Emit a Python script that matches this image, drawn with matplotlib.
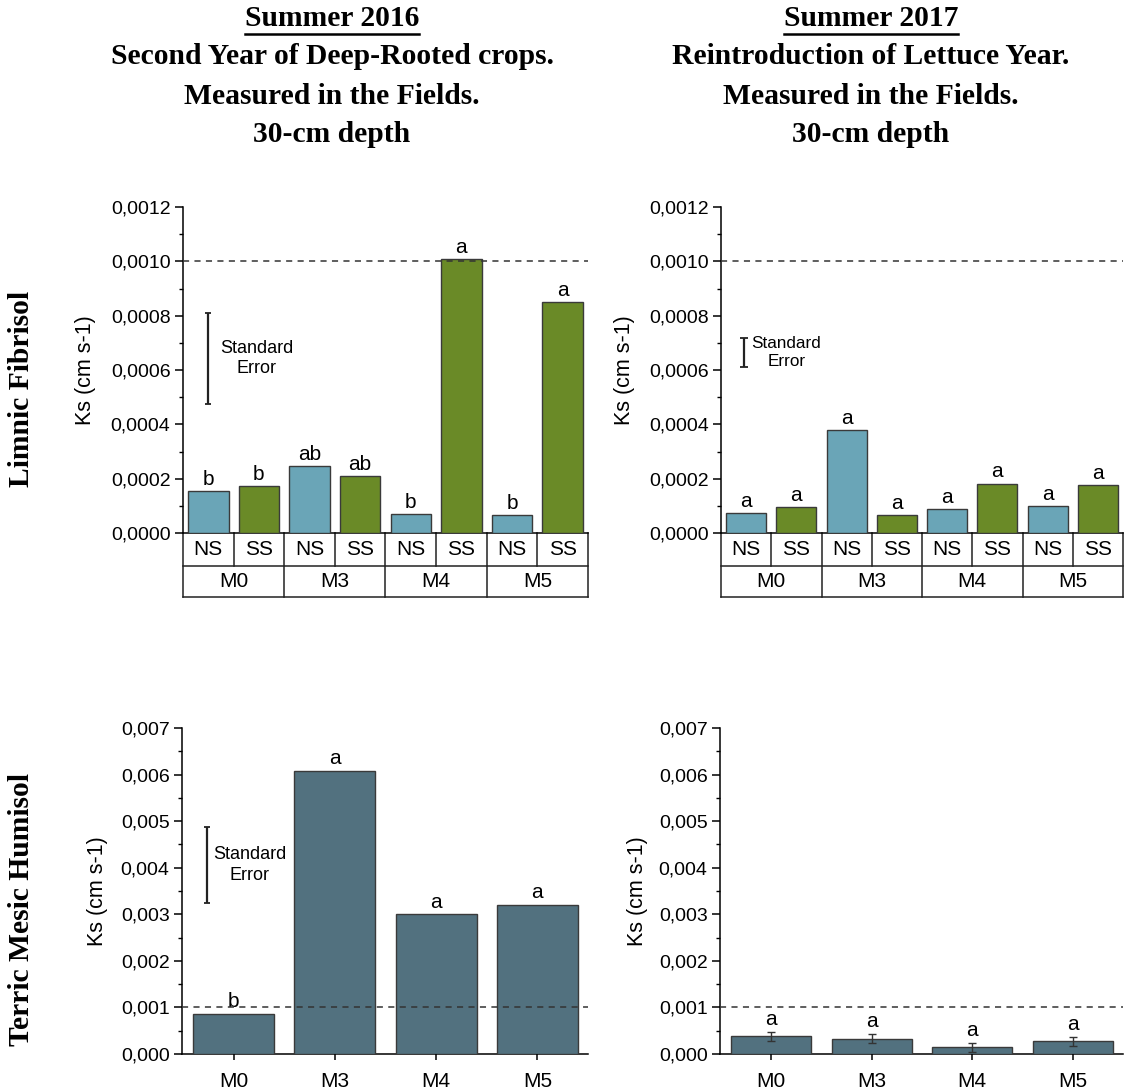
import matplotlib
matplotlib.use("Agg")
import matplotlib.pyplot as plt
import matplotlib.transforms as mtransforms
from matplotlib.lines import Line2D
from matplotlib.ticker import AutoMinorLocator, FuncFormatter, MultipleLocator

plt.rcParams["font.family"] = ["Liberation Sans", "DejaVu Sans"]

# Limnic Fibrisol: Ks by amendment (M0..M5) and sub-treatment (NS / SS)
amendments = ["M0", "M3", "M4", "M5"]
subplots_ns_ss = ["NS", "SS"]

lf_2016_ns = [0.000156, 0.000248, 0.000070, 0.000065]
lf_2016_ss = [0.000174, 0.000208, 0.001010, 0.000850]
lf_2016_ns_letters = ["b", "ab", "b", "b"]
lf_2016_ss_letters = ["b", "ab", "a", "a"]

lf_2017_ns = [0.000073, 0.000378, 0.000087, 0.000100]
lf_2017_ss = [0.000097, 0.000067, 0.000182, 0.000176]
lf_2017_ns_letters = ["a", "a", "a", "a"]
lf_2017_ss_letters = ["a", "a", "a", "a"]

# Terric Mesic Humisol: Ks by amendment
tmh_2016 = [0.00086, 0.00608, 0.00300, 0.00320]
tmh_2016_letters = ["b", "a", "a", "a"]

tmh_2017 = [0.00038, 0.00033, 0.00014, 0.00027]
tmh_2017_err = [0.00010, 0.00010, 0.00010, 0.00010]
tmh_2017_letters = ["a", "a", "a", "a"]

# standard error legend bars (low, high)
se_lf_2016 = (0.000475, 0.00081)
se_lf_2017 = (0.000612, 0.000718)
se_tmh_2016 = (0.00325, 0.00488)

threshold = 0.001

NS_COLOR = "#6aa5b7"
SS_COLOR = "#6a8a27"
TMH_COLOR = "#52717f"
EDGE = "#3a3a3a"

fig = plt.figure(figsize=(11.25, 10.92), dpi=100)
W, H = 1125, 1092


def add_axes_px(left, top, right, bottom):
    return fig.add_axes([left / W, 1 - bottom / H, (right - left) / W, (bottom - top) / H])


def style_axis(ax, ymax, step, decimals):
    ax.set_ylim(0, ymax)
    ax.yaxis.set_major_locator(MultipleLocator(step))
    ax.yaxis.set_minor_locator(AutoMinorLocator(2))
    ax.yaxis.set_major_formatter(FuncFormatter(lambda v, _: f"{v:.{decimals}f}".replace(".", ",")))
    for side in ("top", "right"):
        ax.spines[side].set_visible(False)
    ax.spines["left"].set_linewidth(1.1)
    ax.spines["bottom"].set_linewidth(1.1)
    ax.tick_params(axis="y", which="major", length=6, width=1.1, labelsize=14, pad=3)
    ax.tick_params(axis="y", which="minor", length=3, width=1.0)
    ax.set_ylabel("Ks (cm s-1)", fontsize=15.5)
    ax.axhline(threshold, color="#333333", linestyle=(0, (4, 3.5)), linewidth=1.1, zorder=5)


def se_legend(ax, x, lo_hi, text, text_x, fontsize, capsize):
    lo, hi = lo_hi
    ax.errorbar([x], [(lo + hi) / 2], yerr=[(hi - lo) / 2], fmt="none",
                ecolor="#222222", elinewidth=1.6, capsize=capsize, capthick=1.3)
    ax.text(text_x, (lo + hi) / 2, text, ha="center", va="center", fontsize=fontsize,
            linespacing=1.3)


def grouped_panel(ax, ns, ss, ns_letters, ss_letters):
    xs_ns = [2 * i for i in range(len(amendments))]
    xs_ss = [2 * i + 1 for i in range(len(amendments))]
    ax.bar(xs_ns, ns, width=0.8, color=NS_COLOR, edgecolor=EDGE, linewidth=1.0, zorder=3)
    ax.bar(xs_ss, ss, width=0.8, color=SS_COLOR, edgecolor=EDGE, linewidth=1.0, zorder=3)
    for xs, vals, letters in ((xs_ns, ns, ns_letters), (xs_ss, ss, ss_letters)):
        for x, v, lab in zip(xs, vals, letters):
            ax.annotate(lab, (x, v), xytext=(0, 1.5), textcoords="offset points",
                        ha="center", va="bottom", fontsize=15)
    ax.set_xlim(-0.5, 2 * len(amendments) - 0.5)
    ax.set_xticks([])

    # two-row category table under the axis
    trans = mtransforms.blended_transform_factory(ax.transData, ax.transAxes)
    r1, r2 = -0.101, -0.196
    xmin, xmax = -0.5, 2 * len(amendments) - 0.5
    line_kw = dict(color="#222222", linewidth=1.1, transform=trans, clip_on=False)
    for yy in (r1, r2):
        ax.add_line(Line2D([xmin, xmax], [yy, yy], **line_kw))
    for k in range(2 * len(amendments) + 1):
        bot_y = r2 if k % 2 == 0 else r1
        ax.add_line(Line2D([k - 0.5, k - 0.5], [0, bot_y], **line_kw))
    for i, m in enumerate(amendments):
        for j, s in enumerate(subplots_ns_ss):
            ax.text(2 * i + j, r1 / 2, s, transform=trans, ha="center", va="center", fontsize=15)
        ax.text(2 * i + 0.5, (r1 + r2) / 2, m, transform=trans, ha="center", va="center", fontsize=15)


def single_panel(ax, vals, letters, err=None):
    xs = list(range(len(amendments)))
    ax.bar(xs, vals, width=0.8, color=TMH_COLOR, edgecolor=EDGE, linewidth=1.0, zorder=3)
    tops = list(vals)
    if err is not None:
        ax.errorbar(xs, vals, yerr=err, fmt="none", ecolor="#333333", elinewidth=1.0,
                    capsize=3, capthick=1.0, zorder=4)
        tops = [v + e for v, e in zip(vals, err)]
    for x, t, lab in zip(xs, tops, letters):
        ax.annotate(lab, (x, t), xytext=(0, 2), textcoords="offset points",
                    ha="center", va="bottom", fontsize=15)
    ax.set_xlim(-0.51, len(amendments) - 0.5)
    ax.set_xticks(xs, amendments)
    ax.tick_params(axis="x", length=4, width=1.1, labelsize=15, pad=9)


# Limnic Fibrisol, 2016
ax1 = add_axes_px(183, 207, 588, 533)
style_axis(ax1, 0.0012, 0.0002, 4)
grouped_panel(ax1, lf_2016_ns, lf_2016_ss, lf_2016_ns_letters, lf_2016_ss_letters)
se_legend(ax1, 0.0, se_lf_2016, "Standard\nError", 0.95, 13, 2)
ax1.yaxis.set_label_coords(-0.215, 0.5)

# Limnic Fibrisol, 2017
ax2 = add_axes_px(721, 207, 1123, 533)
style_axis(ax2, 0.0012, 0.0002, 4)
grouped_panel(ax2, lf_2017_ns, lf_2017_ss, lf_2017_ns_letters, lf_2017_ss_letters)
se_legend(ax2, -0.05, se_lf_2017, "Standard\nError", 0.8, 12.3, 3)
ax2.yaxis.set_label_coords(-0.214, 0.5)

# Terric Mesic Humisol, 2016
ax3 = add_axes_px(182, 728, 588, 1054)
style_axis(ax3, 0.007, 0.001, 3)
single_panel(ax3, tmh_2016, tmh_2016_letters)
se_legend(ax3, -0.26, se_tmh_2016, "Standard\nError", 0.16, 13, 2)
ax3.yaxis.set_label_coords(-0.182, 0.5)

# Terric Mesic Humisol, 2017
ax4 = add_axes_px(720, 728, 1123, 1054)
style_axis(ax4, 0.007, 0.001, 3)
single_panel(ax4, tmh_2017, tmh_2017_letters, tmh_2017_err)
ax4.yaxis.set_label_coords(-0.179, 0.5)

# column headings
serif = ["Liberation Serif", "DejaVu Serif"]
headings = [
    (332, ["Summer 2016", "Second Year of Deep-Rooted crops.", "Measured in the Fields.", "30-cm depth"]),
    (871, ["Summer 2017", "Reintroduction of Lettuce Year.", "Measured in the Fields.", "30-cm depth"]),
]
line_y = [18, 57, 96, 134]
renderer = fig.canvas.get_renderer()
for cx, lines in headings:
    for k, (txt, yy) in enumerate(zip(lines, line_y)):
        t = fig.text(cx / W, 1 - yy / H, txt, ha="center", va="center",
                     fontsize=21.3, fontweight="bold", family=serif)
        if k == 0:
            bb = t.get_window_extent(renderer=renderer)
            y_ul = (bb.y0 - 2) / fig.bbox.height
            fig.add_artist(Line2D([bb.x0 / fig.bbox.width, bb.x1 / fig.bbox.width], [y_ul, y_ul],
                                  color="black", linewidth=1.8, transform=fig.transFigure))

# row headings
fig.text(22 / W, 1 - 389 / H, "Limnic Fibrisol", rotation=90, ha="center", va="center",
         fontsize=21.3, fontweight="bold", family=serif)
fig.text(22 / W, 1 - 910 / H, "Terric Mesic Humisol", rotation=90, ha="center", va="center",
         fontsize=21.3, fontweight="bold", family=serif)

fig.savefig("out.png", dpi=100)
